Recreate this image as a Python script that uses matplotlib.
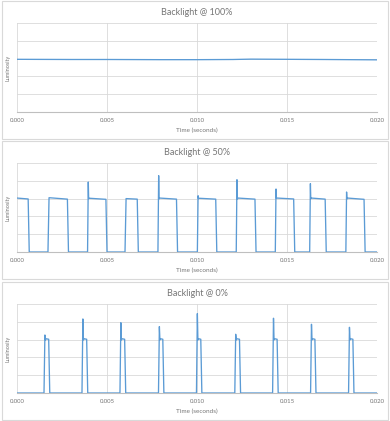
import matplotlib
matplotlib.use('Agg')
import matplotlib.pyplot as plt
from matplotlib.patches import Rectangle

plt.rcParams['font.family'] = ['Lato', 'DejaVu Sans']

# backlight @ 100% : flat
t_100 = [0.0, 0.003, 0.005, 0.008, 0.010, 0.012, 0.013, 0.015, 0.017, 0.020]
y_100 = [2.96, 2.95, 2.95, 2.94, 2.94, 2.95, 2.97, 2.96, 2.95, 2.93]

# backlight @ 50% : square wave with overshoot spikes
t_50 = [0.0, 0.00062, 0.00068, 0.00172, 0.00178, 0.0028, 0.00286,
        0.00392, 0.00396, 0.00398, 0.00402, 0.00494, 0.005,
        0.006, 0.00606, 0.00668, 0.00674,
        0.00783, 0.00787, 0.00789, 0.00793, 0.00886, 0.00892,
        0.01002, 0.01006, 0.01008, 0.0101, 0.01104, 0.0111,
        0.01218, 0.01222, 0.01224, 0.01228, 0.01322, 0.01328,
        0.01435, 0.01439, 0.01441, 0.01445, 0.01537, 0.01543,
        0.01626, 0.0163, 0.01632, 0.01636, 0.01712, 0.01718,
        0.01827, 0.01831, 0.01833, 0.01837, 0.01928, 0.01934, 0.020]
y_50 = [3.03, 2.98, 0, 0, 3.05, 2.97, 0,
        0, 3.93, 3.0, 3.02, 2.96, 0,
        0, 3.0, 2.97, 0,
        0, 4.29, 2.98, 3.03, 2.97, 0,
        0, 3.16, 3.0, 3.02, 2.97, 0,
        0, 4.06, 2.98, 3.03, 2.97, 0,
        0, 3.54, 3.02, 3.03, 2.98, 0,
        0, 3.84, 3.0, 3.03, 2.97, 0,
        0, 3.37, 2.98, 3.03, 2.96, 0, 0]

# backlight @ 0% : narrow pulses
t_0 = [0.0,
       0.0015, 0.00155, 0.00158, 0.0016, 0.00176, 0.00182,
       0.00361, 0.00366, 0.00369, 0.00371, 0.00387, 0.00393,
       0.00572, 0.00577, 0.0058, 0.00582, 0.00598, 0.00604,
       0.00786, 0.00791, 0.00794, 0.00796, 0.0081, 0.00816,
       0.00997, 0.01002, 0.01005, 0.01007, 0.01021, 0.01027,
       0.0121, 0.01215, 0.01218, 0.0122, 0.01236, 0.01242,
       0.0142, 0.01425, 0.01428, 0.0143, 0.01445, 0.01451,
       0.01631, 0.01636, 0.01639, 0.01641, 0.01655, 0.01661,
       0.01842, 0.01847, 0.0185, 0.01852, 0.01866, 0.01872,
       0.020]
y_0 = [0,
       0, 3.26, 2.98, 3.05, 3.02, 0,
       0, 4.16, 2.98, 3.05, 3.02, 0,
       0, 3.95, 2.98, 3.05, 3.02, 0,
       0, 3.73, 2.98, 3.05, 3.02, 0,
       0, 4.46, 2.98, 3.05, 3.02, 0,
       0, 3.30, 2.98, 3.05, 3.02, 0,
       0, 4.20, 2.98, 3.05, 3.02, 0,
       0, 3.86, 2.98, 3.05, 3.02, 0,
       0, 3.69, 2.98, 3.05, 3.02, 0,
       0]

titles = ['Backlight @ 100%', 'Backlight @ 50%', 'Backlight @ 0%']
series = [(t_100, y_100), (t_50, y_50), (t_0, y_0)]
xticks = [0.0, 0.005, 0.010, 0.015, 0.020]
xticklabels = ['0.000', '0.005', '0.010', '0.015', '0.020']

W, H = 390, 421
fig = plt.figure(figsize=(W / 100, H / 100), dpi=100)

# panel layout in pixels (top of plot area, top of panel box)
plot_tops = [23, 163, 304]
box_tops = [1, 141, 282]
line_col = '#5b9bd5'
grid_col = '#d9d9d9'
text_col = '#767676'

for i in range(3):
    # frame around each chart
    fig.add_artist(Rectangle((1.5 / W, 1 - (box_tops[i] + 138) / H), 386.5 / W, 138 / H,
                             transform=fig.transFigure, fill=False,
                             edgecolor='#d9d9d9', lw=0.8))

    ax = fig.add_axes([17 / W, 1 - (plot_tops[i] + 89) / H, 360 / W, 89 / H])
    t, y = series[i]
    ax.plot(t, y, color=line_col, lw=0.95, zorder=3)
    ax.set_xlim(0, 0.020)
    ax.set_ylim(0, 5)
    ax.set_xticks(xticks)
    ax.set_xticklabels(xticklabels)
    ax.set_yticks([0, 1, 2, 3, 4, 5])
    ax.set_yticklabels([])
    ax.grid(True, color=grid_col, lw=0.6)
    ax.set_axisbelow(True)
    for s in ['top', 'right', 'left']:
        ax.spines[s].set_visible(False)
    ax.spines['bottom'].set_color('#bfbfbf')
    ax.spines['bottom'].set_linewidth(0.8)
    ax.tick_params(length=0, labelsize=4.3, labelcolor=text_col, pad=4)
    ax.set_title(titles[i], fontsize=6.5, color=text_col, pad=6)
    ax.set_xlabel('Time (seconds)', fontsize=4.6, color=text_col, labelpad=4)
    ax.set_ylabel('Luminosity', fontsize=4, color=text_col, labelpad=1)

plt.savefig('out.png', dpi=100)
